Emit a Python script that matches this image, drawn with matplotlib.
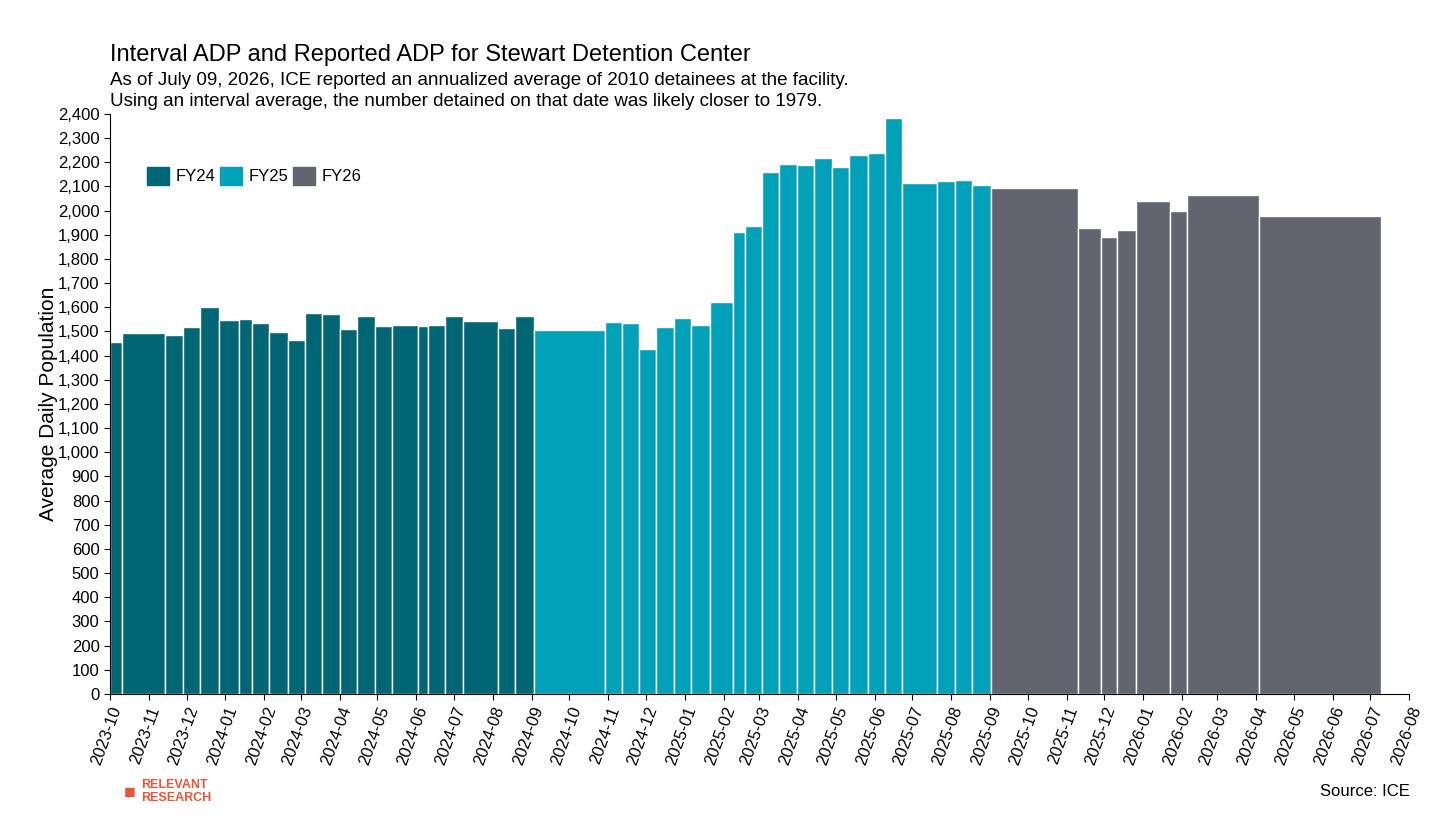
import matplotlib.pyplot as plt
import matplotlib.dates as mdates
import pandas as pd
from matplotlib.patches import Patch

plt.rcParams['font.family'] = ['Liberation Sans', 'DejaVu Sans']

# interval start dates (each bar runs until the next start), last entry = end of final interval
starts = ['2023-10-01', '2023-10-11', '2023-11-14', '2023-11-28', '2023-12-12', '2023-12-27',
          '2024-01-12', '2024-01-22', '2024-02-05', '2024-02-20', '2024-03-04', '2024-03-18',
          '2024-04-01', '2024-04-15', '2024-04-29', '2024-05-13', '2024-06-02', '2024-06-10',
          '2024-06-24', '2024-07-08', '2024-08-05', '2024-08-19',
          '2024-09-03', '2024-10-29', '2024-11-12', '2024-11-25', '2024-12-09', '2024-12-23',
          '2025-01-06', '2025-01-21', '2025-02-08', '2025-02-18', '2025-03-03', '2025-03-17',
          '2025-03-31', '2025-04-14', '2025-04-28', '2025-05-12', '2025-05-27', '2025-06-09',
          '2025-06-23', '2025-07-21', '2025-08-04', '2025-08-18',
          '2025-09-02', '2025-11-10', '2025-11-28', '2025-12-11', '2025-12-26', '2026-01-22',
          '2026-02-05', '2026-04-03', '2026-07-09']
values = [1456, 1494, 1487, 1518, 1602, 1549, 1553, 1535, 1499, 1466, 1575, 1571,
          1511, 1565, 1523, 1527, 1523, 1527, 1564, 1542, 1514, 1564,
          1507, 1538, 1533, 1427, 1518, 1554, 1527, 1622, 1913, 1934, 2158, 2194,
          2190, 2218, 2180, 2228, 2238, 2383, 2113, 2122, 2125, 2107,
          2093, 1927, 1892, 1921, 2041, 1997, 2063, 1978]
fiscal = ['FY24'] * 22 + ['FY25'] * 22 + ['FY26'] * 8
colours = {'FY24': '#006575', 'FY25': '#00A0B8', 'FY26': '#62646F'}

edges = pd.to_datetime(starts)
left = mdates.date2num(edges[:-1])
width = mdates.date2num(edges[1:]) - left

fig = plt.figure(figsize=(14.56, 8.19), dpi=100)
ax = fig.add_axes([0.0755, 0.1526, 0.8925, 0.7084])

ax.bar(left, values, width=width, align='edge',
       color=[colours[f] for f in fiscal], edgecolor='white', linewidth=1)

ax.set_xlim(mdates.date2num(pd.Timestamp('2023-10-01')), mdates.date2num(pd.Timestamp('2026-08-01')))
ax.set_ylim(0, 2400)
ax.set_yticks(range(0, 2401, 100))
ax.set_yticklabels([f'{v:,}' for v in range(0, 2401, 100)], fontsize=12)
ax.xaxis.set_major_locator(mdates.MonthLocator())
ax.xaxis.set_major_formatter(mdates.DateFormatter('%Y-%m'))
plt.setp(ax.get_xticklabels(), rotation=70, ha='right', rotation_mode='anchor', fontsize=12)
ax.tick_params(length=4, color='black')
ax.spines['top'].set_visible(False)
ax.spines['right'].set_visible(False)
ax.set_ylabel('Average Daily Population', fontsize=15, labelpad=0)

fig.text(0.0755, 0.925, 'Interval ADP and Reported ADP for Stewart Detention Center', fontsize=17)
fig.text(0.0755, 0.896, 'As of July 09, 2026, ICE reported an annualized average of 2010 detainees at the facility.', fontsize=13.5)
fig.text(0.0755, 0.870, 'Using an interval average, the number detained on that date was likely closer to 1979.', fontsize=13.5)

handles = [Patch(color=colours[k], label=k) for k in ['FY24', 'FY25', 'FY26']]
ax.legend(handles=handles, loc='upper left', bbox_to_anchor=(0.017, 0.935), ncol=3, frameon=False,
          fontsize=12, handlelength=1.3, handleheight=1.3, handletextpad=0.4, columnspacing=0.3)

fig.text(0.968, 0.028, 'Source: ICE', fontsize=12, ha='right')
fig.text(0.097, 0.038, 'RELEVANT', fontsize=9, color='#E8553A', fontweight='bold')
fig.text(0.097, 0.022, 'RESEARCH', fontsize=9, color='#E8553A', fontweight='bold')
fig.text(0.085, 0.026, '\u25a0', fontsize=14, color='#E8553A')

fig.savefig('out.png', dpi=100)
